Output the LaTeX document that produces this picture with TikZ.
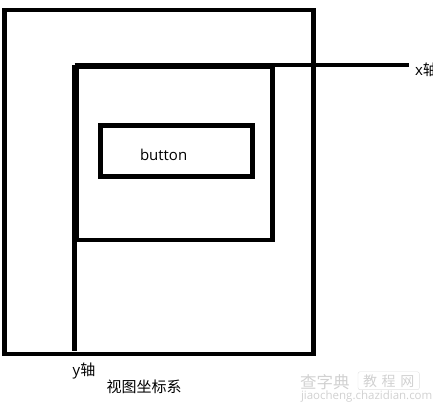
\documentclass[tikz,border=0pt]{standalone}
\usepackage{fontspec}
\setmainfont{Open Sans}
\newfontfamily\cjk{Noto Sans CJK SC}
\begin{document}
\begin{tikzpicture}[x=1pt,y=-1pt,
  frame/.style={draw=black,line width=4.6pt,inner sep=0pt,outer sep=0pt,rectangle},
  axis/.style={draw=black,line width=4.6pt},
  lbl/.style={inner sep=0pt,outer sep=0pt,font=\fontsize{15}{15}\selectfont},
  wm/.style={inner sep=0pt,outer sep=0pt,text=black!18}]
\useasboundingbox (0,0) rectangle (433,405);
\clip (0,0) rectangle (433,405);
\node[frame,minimum width=309pt,minimum height=344pt] (outer) at (159,182) {};
\node[frame,minimum width=195.5pt,minimum height=173pt] (inner) at (174.75,153.5) {};
\node[frame,minimum width=152pt,minimum height=50.8pt] (btn) at (176.5,150.9) {};
\node[lbl,anchor=base west] (btntext) at (140,160.7) {button};
\coordinate (o) at (74.5,64.8);
\coordinate (xe) at (409,64.8);
\coordinate (ye) at (74.5,351);
\draw[axis] (o) -- (xe);
\draw[axis] (o) -- (ye);
\node[lbl,anchor=base west] (xl) at (415,75) {x{\cjk 轴}};
\node[lbl,anchor=base west] (yl) at (72.7,375) {y{\cjk 轴}};
\node[lbl,anchor=base west] (cap) at (106.7,392) {\cjk 视图坐标系};
\node[wm,anchor=base west,font=\cjk\fontsize{16.5}{16.5}\selectfont] (wm1) at (300,388) {查字典};
\node[wm,anchor=base west,font=\cjk\fontsize{14}{14}\selectfont,draw=black!12,rounded corners=2pt,inner xsep=5pt,inner ysep=2.5pt] (wm2) at (358,386) {教\,\,程\,\,网};
\node[wm,anchor=base west,font=\fontsize{11.5}{11.5}\selectfont] (wm3) at (301,399.5) {jiaocheng.chazidian.com};
\end{tikzpicture}
\end{document}
